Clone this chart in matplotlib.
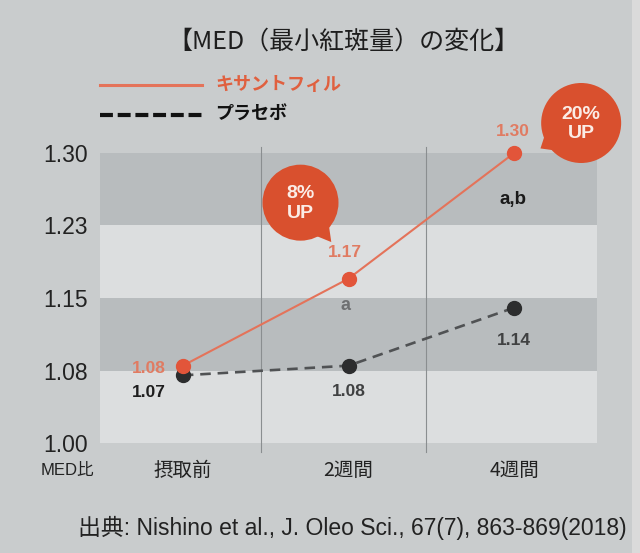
import matplotlib
matplotlib.use("Agg")
import matplotlib.pyplot as plt
from matplotlib.patches import Circle, Polygon, Rectangle
from matplotlib.lines import Line2D
from matplotlib.transforms import IdentityTransform
import numpy as np

plt.rcParams['font.family'] = ['Liberation Sans', 'Noto Sans CJK JP']

# ---- data ----
categories = ['摂取前', '2週間', '4週間']
xanthophyll = [1.08, 1.17, 1.30]
placebo = [1.07, 1.08, 1.14]
xan_labels = ['1.08', '1.17', '1.30']
pla_labels = ['1.07', '1.08', '1.14']
sig_labels = ['', 'a', 'a,b']
yticks = [1.0, 1.075, 1.15, 1.225, 1.30]
ytick_labels = ['1.00', '1.08', '1.15', '1.23', '1.30']
series_names = ['キサントフィル', 'プラセボ']
bubble_texts = ['8%\nUP', '20%\nUP']
title = '【MED（最小紅斑量）の変化】'
source = '出典: Nishino et al., J. Oleo Sci., 67(7), 863-869(2018)'

# ---- colours ----
BG = '#c9cccd'
LIGHT = '#dcdedf'
DARK = '#b8bcbe'
ORANGE_LINE = '#e4735a'
ORANGE_MK = '#e2553a'
ORANGE_TXT = '#e07b62'
BUBBLE = '#d9502e'
PLA_LINE = '#505254'
PLA_MK = '#2c2d2e'

W, H = 640, 553
fig = plt.figure(figsize=(W / 100, H / 100), dpi=100, facecolor=BG)
# paper edge on the right
fig.add_artist(Rectangle((632 / W, 0), 8 / W, 1, facecolor='#dadada',
                         edgecolor='none', transform=fig.transFigure, zorder=0))

ax = fig.add_axes([100 / W, 1 - 443 / H, 497 / W, 290 / H])
ax.set_facecolor(LIGHT)
ax.set_xlim(-0.5, 2.5)
ax.set_ylim(1.0, 1.30)
for s in ax.spines.values():
    s.set_visible(False)

# bands
ax.axhspan(yticks[1], yticks[2], color=DARK, zorder=0, lw=0)
ax.axhspan(yticks[3], yticks[4], color=DARK, zorder=0, lw=0)

# dividers
x = np.arange(len(categories))
for xv in (x[:-1] + x[1:]) / 2:
    ax.axvline(xv - 0.03, ymin=-0.03, ymax=1.02, color='#8a8e90', lw=0.8,
               clip_on=False, zorder=1)

ax.set_yticks(yticks)
ax.set_yticklabels(ytick_labels, fontsize=16.5, color='#222222')
ax.set_xticks(x)
ax.set_xticklabels(categories, fontsize=14, color='#222222',
                   family=['Noto Sans CJK JP'])
ax.tick_params(axis='both', length=0)
ax.tick_params(axis='y', pad=9)
ax.tick_params(axis='x', pad=12)

# lines
ax.plot(x, placebo, color=PLA_LINE, lw=1.9, dashes=(4, 2.6), zorder=3)
ax.plot(x, placebo, 'o', color=PLA_MK, ms=10, zorder=4, clip_on=False)
ax.plot(x, xanthophyll, color=ORANGE_LINE, lw=1.5, zorder=5)
ax.plot(x, xanthophyll, 'o', color=ORANGE_MK, ms=10, zorder=6, clip_on=False)

# value labels
lab_kw = dict(textcoords='offset pixels', fontsize=12.5, fontweight='bold',
              va='center', annotation_clip=False, zorder=7)
ax.annotate(xan_labels[0], (x[0], xanthophyll[0]), xytext=(-17, -3),
            ha='right', color=ORANGE_TXT, **lab_kw)
ax.annotate(pla_labels[0], (x[0], placebo[0]), xytext=(-17, -17),
            ha='right', color='#1e1e1e', **lab_kw)
ax.annotate(xan_labels[1], (x[1], xanthophyll[1]), xytext=(-4, 26),
            ha='center', color=ORANGE_TXT, **lab_kw)
ax.annotate(xan_labels[2], (x[2], xanthophyll[2]), xytext=(-1, 21),
            ha='center', color=ORANGE_TXT, **lab_kw)
ax.annotate(pla_labels[1], (x[1], placebo[1]), xytext=(0, -26),
            ha='center', color='#404142', **lab_kw)
ax.annotate(pla_labels[2], (x[2], placebo[2]), xytext=(0, -33),
            ha='center', color='#404142', **lab_kw)
ax.annotate(sig_labels[1], (x[1], xanthophyll[1]), xytext=(-3, -27),
            ha='center', color='#6e7072', **dict(lab_kw, fontsize=13))
ax.annotate(sig_labels[2], (x[2], xanthophyll[2]), xytext=(-1, -47),
            ha='center', color='#1a1a1a', **dict(lab_kw, fontsize=13.5))

# speech bubbles anchored to the points
def bubble(px, py, dx, dy, r, tail_ang, tail_len, text):
    cx, cy = ax.transData.transform((px, py))
    cx += dx
    cy += dy
    a0 = np.deg2rad(tail_ang)
    b1 = (cx + r * 0.97 * np.cos(a0 - 0.22), cy + r * 0.97 * np.sin(a0 - 0.22))
    b2 = (cx + r * 0.97 * np.cos(a0 + 0.22), cy + r * 0.97 * np.sin(a0 + 0.22))
    tip = (cx + (r + tail_len) * np.cos(a0), cy + (r + tail_len) * np.sin(a0))
    fig.add_artist(Polygon([b1, tip, b2], closed=True, facecolor=BUBBLE,
                           edgecolor='none', transform=IdentityTransform(),
                           zorder=8))
    fig.add_artist(Circle((cx, cy), r, facecolor=BUBBLE, edgecolor='none',
                          transform=IdentityTransform(), zorder=8))
    fig.text(cx, cy - 1, text, transform=IdentityTransform(), ha='center',
             va='center', color='#fbece6', fontsize=14, fontweight='bold',
             linespacing=1.2, zorder=9)

bubble(x[1], xanthophyll[1], -48, 76, 38, -52, 12, bubble_texts[0])
bubble(x[2], xanthophyll[2], 67, 30, 40, -148, 8, bubble_texts[1])

# legend (manual)
fig.add_artist(Line2D([100 / W, 202 / W], [1 - 85 / H, 1 - 85 / H],
                      color=ORANGE_LINE, lw=2.2, transform=fig.transFigure))
fig.add_artist(Line2D([100 / W, 202 / W], [1 - 115 / H, 1 - 115 / H],
                      color='#111111', lw=3, dashes=(3.1, 1.15),
                      transform=fig.transFigure))
fig.text(215 / W, 1 - 85 / H, series_names[0], color='#e0603f', fontsize=13,
         fontweight='bold', va='center', family=['Noto Sans CJK JP'])
fig.text(215 / W, 1 - 114 / H, series_names[1], color='#111111', fontsize=13,
         fontweight='bold', va='center', family=['Noto Sans CJK JP'])

# title, axis caption, source
fig.text(343 / W, 1 - 42 / H, title, ha='center', va='center', fontsize=18,
         color='#1e1e1e', family=['Noto Sans CJK JP'])
fig.text(67 / W, 1 - 470 / H, 'MED比', ha='center', va='center', fontsize=12,
         color='#222222')
fig.text(78 / W, 1 - 528 / H, source, ha='left', va='center', fontsize=16.5,
         color='#222222')

fig.savefig('out.png', dpi=100, facecolor=BG)
